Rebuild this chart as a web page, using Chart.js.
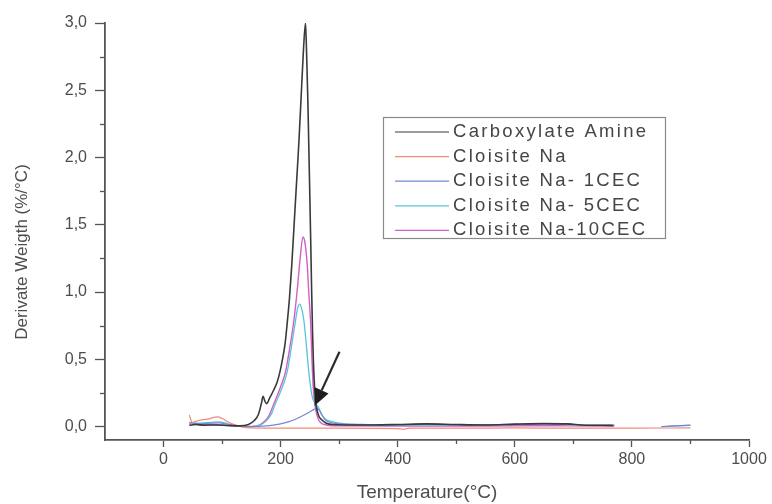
<!DOCTYPE html>
<html>
<head>
<meta charset="utf-8">
<script src="https://cdn.jsdelivr.net/npm/chart.js@4.4.1/dist/chart.umd.min.js"></script>
<style>
html,body{margin:0;padding:0;background:#fff;}
#wrap{width:772px;height:504px;position:relative;}
</style>
</head>
<body>
<div id="wrap"><canvas id="c" width="772" height="504"></canvas></div>
<script>
// ---- data (temperature °C, derivative weight %/°C) ----
const seriesNames = ["Carboxylate Amine", "Cloisite Na", "Cloisite Na- 1CEC", "Cloisite Na- 5CEC", "Cloisite Na-10CEC"];

const amineT = [44,55,70,90,110,130,145,155,162,167,170,173,176,181,188,194,199,204,208,211,215,219,223,227,231,235,239,242.5,244.5,246.5,248.5,250,251.5,253,254.5,256,258,261,265,270,278,290,320,360,400,450,500,550,600,650,690,720,750,768];
const amineV = [0.01,0.015,0.01,0.012,0.008,0.005,0.015,0.045,0.09,0.17,0.225,0.19,0.17,0.21,0.27,0.33,0.41,0.52,0.63,0.76,0.95,1.2,1.5,1.8,2.1,2.45,2.8,3.0,2.75,2.42,2.0,1.68,1.35,1.0,0.7,0.48,0.29,0.15,0.08,0.05,0.025,0.015,0.012,0.012,0.015,0.02,0.015,0.012,0.018,0.022,0.02,0.01,0.01,0.008];

const naT = [44,49,60,75,92,100,112,132,150,200,300,400,410,420,500,600,700,800,900];
const naV = [0.087,0.03,0.045,0.055,0.072,0.06,0.03,0.0,-0.01,-0.012,-0.012,-0.015,-0.02,-0.012,-0.012,-0.01,-0.012,-0.012,-0.01];

const cec1T = [44,60,80,95,110,130,150,170,190,205,220,235,248,257,262,266,270,276,285,300,350,400,450,500,550,600,650,690,730,770,780,850,870,900];
const cec1V = [0.03,0.02,0.025,0.028,0.015,0.002,0.0,0.003,0.012,0.025,0.045,0.075,0.105,0.128,0.135,0.12,0.09,0.05,0.03,0.02,0.015,0.012,0.018,0.01,0.014,0.016,0.02,0.018,0.008,0.01,null,0.0,0.005,0.01];

const cec5T = [44,60,80,95,110,130,150,165,175,185,191,200,211.4,218,225.5,229,232.4,235,239.7,244,248,251,254,259,265,270,278,285,300,330,400,500,600,650,700,770,780,860,900];
const cec5V = [0.03,0.025,0.03,0.035,0.02,0.005,0.0,0.01,0.04,0.1,0.17,0.26,0.41,0.58,0.79,0.88,0.91,0.89,0.79,0.6,0.41,0.3,0.22,0.17,0.14,0.09,0.05,0.04,0.025,0.015,0.01,0.012,0.015,0.02,0.012,0.008,null,0.002,0.008];

const cec10T = [44,60,80,100,120,140,160,170,180,188.6,195,202,208.5,215,222.7,228,234,238,241,245.5,248,251,253.5,255.7,259,263,268,280,300,400,500,600,700,770];
const cec10V = [0.02,0.015,0.015,0.012,0.005,0.0,0.005,0.03,0.08,0.17,0.24,0.32,0.41,0.57,0.79,1.0,1.28,1.41,1.38,1.2,1.0,0.79,0.5,0.29,0.15,0.07,0.03,0.01,0.005,0.004,0.003,0.006,0.005,0.004];

const xTickValues = [0,200,400,600,800,1000];
const yTickValues = [0,0.5,1.0,1.5,2.0,2.5,3.0];
const xMinorTicks = [100,300,500,700,900];
const yMinorTicks = [0.25,0.75,1.25,1.75,2.25,2.75];
const arrowTail = [300.5, 0.556];
const arrowTip  = [258, 0.154];
const yTitle = 'Derivate Weigth (%/°C)';

// ---- styles ----
const FONT = "'Liberation Sans', Arial, Helvetica, sans-serif";
const TXT = '#4d4d4d';
const AXIS = '#555555';
const colors = ['#3a3a3a', '#f08a7a', '#7388d4', '#58c4d6', '#d35ec8'];
const widths = [1.6, 1.2, 1.2, 1.3, 1.4];

const seriesT = [amineT, naT, cec1T, cec5T, cec10T];
const seriesV = [amineV, naV, cec1V, cec5V, cec10V];

const datasets = seriesNames.map((name, k) => ({
  label: name,
  data: seriesT[k].map((t, i) => ({x: t, y: seriesV[k][i]})),
  borderColor: colors[k],
  borderWidth: widths[k],
  pointRadius: 0,
  cubicInterpolationMode: 'monotone',
  spanGaps: false,
  fill: false
}));

const extras = {
  id: 'extras',
  afterDraw(chart) {
    const ctx = chart.ctx;
    const xs = chart.scales.x, ys = chart.scales.y;
    const ca = chart.chartArea;
    ctx.save();
    // minor ticks
    ctx.strokeStyle = AXIS; ctx.lineWidth = 1.3;
    xMinorTicks.forEach(v => {
      const px = Math.round(xs.getPixelForValue(v)) + 0.5;
      ctx.beginPath(); ctx.moveTo(px, ca.bottom); ctx.lineTo(px, ca.bottom + 4); ctx.stroke();
    });
    yMinorTicks.forEach(v => {
      const py = Math.round(ys.getPixelForValue(v)) + 0.5;
      ctx.beginPath(); ctx.moveTo(ca.left - 5, py); ctx.lineTo(ca.left, py); ctx.stroke();
    });
    // y axis title
    ctx.save();
    ctx.translate(22, 252);
    ctx.rotate(-Math.PI / 2);
    ctx.font = '17px ' + FONT;
    ctx.fillStyle = TXT;
    ctx.textAlign = 'center';
    ctx.textBaseline = 'middle';
    ctx.fillText(yTitle, 0, 0);
    ctx.restore();
    // arrow
    const x1 = xs.getPixelForValue(arrowTail[0]), y1 = ys.getPixelForValue(arrowTail[1]);
    const x2 = xs.getPixelForValue(arrowTip[0]), y2 = ys.getPixelForValue(arrowTip[1]);
    const ang = Math.atan2(y2 - y1, x2 - x1);
    const hl = 17, hw = 7.5;
    const bx = x2 - hl * Math.cos(ang), by = y2 - hl * Math.sin(ang);
    ctx.strokeStyle = '#2a2a2a'; ctx.lineWidth = 2.2;
    ctx.beginPath(); ctx.moveTo(x1, y1); ctx.lineTo(bx, by); ctx.stroke();
    ctx.fillStyle = '#1e1e1e';
    ctx.beginPath();
    ctx.moveTo(x2, y2);
    ctx.lineTo(bx + hw * Math.sin(ang), by - hw * Math.cos(ang));
    ctx.lineTo(bx - hw * Math.sin(ang), by + hw * Math.cos(ang));
    ctx.closePath(); ctx.fill();
    // legend
    const L = 383, T = 117, W = 282, H = 121;
    ctx.strokeStyle = '#8a8a8a'; ctx.lineWidth = 1.2;
    ctx.strokeRect(L + 0.5, T + 0.5, W, H);
    ctx.font = '18.5px ' + FONT;
    ctx.textBaseline = 'middle';
    ctx.fillStyle = '#454545';
    if ('letterSpacing' in ctx) ctx.letterSpacing = '2.3px';
    seriesNames.forEach((name, k) => {
      const y = T + 15 + k * 24.6;
      ctx.strokeStyle = colors[k]; ctx.lineWidth = 1.2;
      ctx.beginPath(); ctx.moveTo(L + 12, y); ctx.lineTo(L + 66, y); ctx.stroke();
      ctx.fillText(name, L + 70, y);
    });
    ctx.restore();
  }
};

new Chart(document.getElementById('c'), {
  type: 'line',
  data: { datasets },
  plugins: [extras],
  options: {
    responsive: false,
    animation: false,
    layout: { padding: { top: 23, right: 23, left: 0, bottom: 0 } },
    plugins: { legend: { display: false }, tooltip: { enabled: false } },
    scales: {
      x: {
        type: 'linear',
        min: -100, max: 1000,
        afterBuildTicks: s => { s.ticks = xTickValues.map(v => ({ value: v })); },
        afterFit: s => { s.height = 64; },
        ticks: { color: TXT, font: { family: FONT, size: 16 }, padding: 3, maxRotation: 0,
                 callback: v => String(Math.round(v)) },
        grid: { drawOnChartArea: false, drawTicks: true, tickLength: 7, tickColor: AXIS, tickWidth: 1.3 },
        border: { display: true, color: AXIS, width: 1.8 },
        title: { display: true, text: 'Temperature(°C)', color: TXT, font: { family: FONT, size: 19 }, padding: { top: 0, bottom: 0 } }
      },
      y: {
        type: 'linear',
        min: -0.1, max: 3.0,
        afterBuildTicks: s => { s.ticks = yTickValues.map(v => ({ value: v })); },
        afterFit: s => { s.width = 105; },
        ticks: { color: TXT, font: { family: FONT, size: 16 }, padding: 8,
                 callback: v => Number(v).toFixed(1).replace('.', ',') },
        grid: { drawOnChartArea: false, drawTicks: true, tickLength: 10, tickColor: AXIS, tickWidth: 1.3 },
        border: { display: true, color: AXIS, width: 1.8 },
        title: { display: false }
      }
    }
  }
});
</script>
</body>
</html>
